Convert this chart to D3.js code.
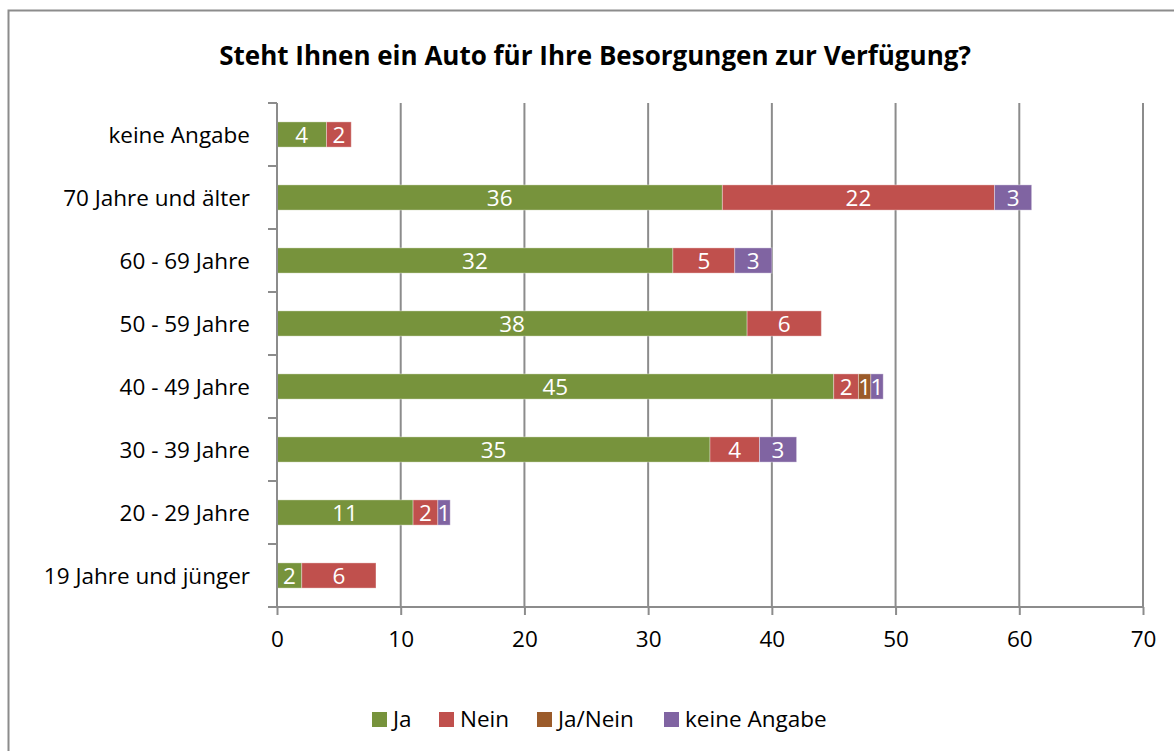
<!DOCTYPE html>
<html>
<head>
<meta charset="utf-8">
<script src="https://cdn.jsdelivr.net/npm/d3@7"></script>
<style>
  body { margin: 0; background: #fff; }
  text { font-family: "Open Sans", sans-serif; }
</style>
</head>
<body>
<div id="chart"></div>
<script>
// categories, top to bottom
var categories = ["keine Angabe", "70 Jahre und älter", "60 - 69 Jahre", "50 - 59 Jahre",
  "40 - 49 Jahre", "30 - 39 Jahre", "20 - 29 Jahre", "19 Jahre und jünger"];

// series values
var ja =          [4, 36, 32, 38, 45, 35, 11, 2];
var nein =        [2, 22, 5, 6, 2, 4, 2, 6];
var jaNein =      [0, 0, 0, 0, 1, 0, 0, 0];
var keineAngabe = [0, 3, 3, 0, 1, 3, 1, 0];

var seriesNames = ["Ja", "Nein", "Ja/Nein", "keine Angabe"];
var seriesColors = ["#77933C", "#C0504D", "#9B5B2A", "#8064A2"];
var xTicks = [0, 10, 20, 30, 40, 50, 60, 70];

var width = 1174, height = 751;
var margin = {top: 103, right: 31, bottom: 144, left: 277};
var fontSize = "22.5px";

var svg = d3.select("#chart").append("svg")
  .attr("width", width)
  .attr("height", height);

// outer frame
svg.append("rect")
  .attr("x", 8.5).attr("y", 10.5)
  .attr("width", 1180).attr("height", 760)
  .attr("fill", "#fff")
  .attr("stroke", "#8c8c8c")
  .attr("stroke-width", 2);

svg.append("text")
  .attr("x", 595).attr("y", 65)
  .attr("text-anchor", "middle")
  .style("font-size", "26px")
  .style("font-weight", "bold")
  .text("Steht Ihnen ein Auto für Ihre Besorgungen zur Verfügung?");

var x = d3.scaleLinear().domain([0, 70]).range([margin.left, width - margin.right]);
var y = d3.scaleBand().domain(categories)
  .range([margin.top, height - margin.bottom])
  .paddingInner(0.6).paddingOuter(0.3);

// gridlines
svg.append("g").selectAll("line")
  .data(xTicks.slice(1))
  .enter().append("line")
  .attr("x1", function(d) { return x(d); })
  .attr("x2", function(d) { return x(d); })
  .attr("y1", margin.top)
  .attr("y2", height - margin.bottom)
  .attr("stroke", "#8c8c8c")
  .attr("stroke-width", 2);

// stack the data
var table = categories.map(function(c, i) {
  return {cat: c, "Ja": ja[i], "Nein": nein[i], "Ja/Nein": jaNein[i], "keine Angabe": keineAngabe[i]};
});
var stacked = d3.stack().keys(seriesNames)(table);

var layers = svg.append("g").selectAll("g")
  .data(stacked)
  .enter().append("g")
  .attr("fill", function(d, i) { return seriesColors[i]; });

layers.selectAll("rect")
  .data(function(d) { return d.filter(function(s) { return s[1] > s[0]; }); })
  .enter().append("rect")
  .attr("x", function(d) { return x(d[0]); })
  .attr("y", function(d) { return y(d.data.cat); })
  .attr("width", function(d) { return x(d[1]) - x(d[0]); })
  .attr("height", y.bandwidth())
  .attr("stroke", "rgba(255,255,255,0.35)")
  .attr("stroke-width", 1);

layers.selectAll("text")
  .data(function(d) { return d.filter(function(s) { return s[1] > s[0]; }); })
  .enter().append("text")
  .attr("x", function(d) { return (x(d[0]) + x(d[1])) / 2; })
  .attr("y", function(d) { return y(d.data.cat) + y.bandwidth() / 2 + 8; })
  .attr("text-anchor", "middle")
  .attr("fill", "#fff")
  .style("font-size", fontSize)
  .text(function(d) { return d[1] - d[0]; });

// x axis
var xAxis = svg.append("g")
  .attr("transform", "translate(0," + (height - margin.bottom) + ")")
  .call(d3.axisBottom(x).tickValues(xTicks).tickSize(8).tickPadding(16));
xAxis.select(".domain").attr("stroke", "#8c8c8c").attr("stroke-width", 2)
  .attr("d", "M" + (margin.left - 9) + ",0H" + (width - margin.right));
xAxis.selectAll(".tick line").attr("stroke", "#8c8c8c").attr("stroke-width", 2);
xAxis.selectAll(".tick text").style("font-size", fontSize).attr("fill", "#000")
  .style("font-family", "'Open Sans', sans-serif");

// y axis with boundary ticks
var yAxis = svg.append("g").attr("transform", "translate(" + margin.left + ",0)");
yAxis.append("line")
  .attr("x1", 0).attr("x2", 0)
  .attr("y1", margin.top).attr("y2", height - margin.bottom)
  .attr("stroke", "#8c8c8c").attr("stroke-width", 2);
var step = (height - margin.bottom - margin.top) / categories.length;
yAxis.selectAll("line.tk")
  .data(d3.range(categories.length))
  .enter().append("line")
  .attr("class", "tk")
  .attr("x1", -9).attr("x2", 0)
  .attr("y1", function(i) { return margin.top + i * step; })
  .attr("y2", function(i) { return margin.top + i * step; })
  .attr("stroke", "#8c8c8c").attr("stroke-width", 2);
yAxis.selectAll("text")
  .data(categories)
  .enter().append("text")
  .attr("x", -27)
  .attr("y", function(d) { return y(d) + y.bandwidth() / 2 + 8; })
  .attr("text-anchor", "end")
  .style("font-size", fontSize)
  .text(function(d) { return d; });

// legend
var legendX = [372, 439, 537, 664];
var legend = svg.append("g").selectAll("g")
  .data(seriesNames)
  .enter().append("g")
  .attr("transform", function(d, i) { return "translate(" + legendX[i] + ",712)"; });
legend.append("rect")
  .attr("width", 15).attr("height", 15)
  .attr("fill", function(d, i) { return seriesColors[i]; });
legend.append("text")
  .attr("x", 21).attr("y", 15)
  .style("font-size", fontSize)
  .text(function(d) { return d; });
</script>
</body>
</html>
